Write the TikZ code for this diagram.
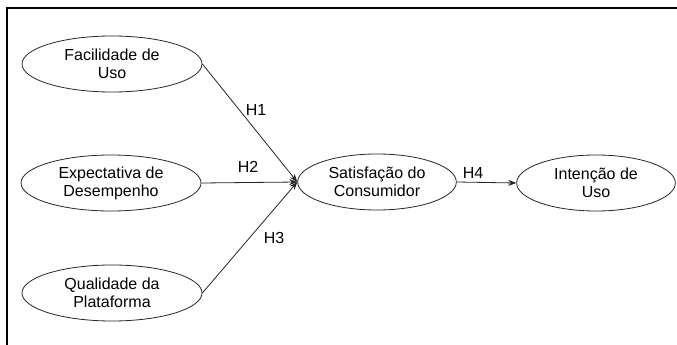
\documentclass[tikz,border=0pt]{standalone}
\usepackage{fontspec}
\setmainfont{Liberation Sans}
\usetikzlibrary{arrows.meta,shapes.geometric}
\begin{document}
\begin{tikzpicture}[x=0.75pt,y=-0.75pt,
  construct/.style={draw=black!85,line width=0.6pt,ellipse,minimum width=135pt,minimum height=42pt,inner sep=0pt,align=center,font=\fontsize{12}{13.5}\selectfont},
  smallc/.style={construct,minimum width=119pt},
  path/.style={draw=black!85,line width=0.6pt,-{Stealth[length=6pt,width=4.5pt]}},
  hlabel/.style={font=\fontsize{12}{13.5}\selectfont,inner sep=0pt}]
\useasboundingbox (0,0) rectangle (677,345);
\draw[line width=1.5pt] (7,345) -- (7,8) -- (677,8);
\node[construct] (F) at (112,64) {Facilidade de\\Uso};
\node[construct] (E) at (111,183) {Expectativa de\\Desempenho};
\node[construct] (Q) at (112,293) {Qualidade da\\Plataforma};
\node[smallc] (S) at (377,182) {Satisfação do\\Consumidor};
\node[smallc] (I) at (596,183) {Intenção de\\Uso};
\draw[path] (F.east) -- (S.west);
\draw[path] (E.east) -- (S.west);
\draw[path] (Q.east) -- (S.west);
\draw[path] (S.east) -- (I.west);
\node[hlabel] (h1) at (256,110) {H1};
\node[hlabel] (h2) at (248,167) {H2};
\node[hlabel] (h3) at (274,238) {H3};
\node[hlabel] (h4) at (473,173) {H4};
\end{tikzpicture}
\end{document}
